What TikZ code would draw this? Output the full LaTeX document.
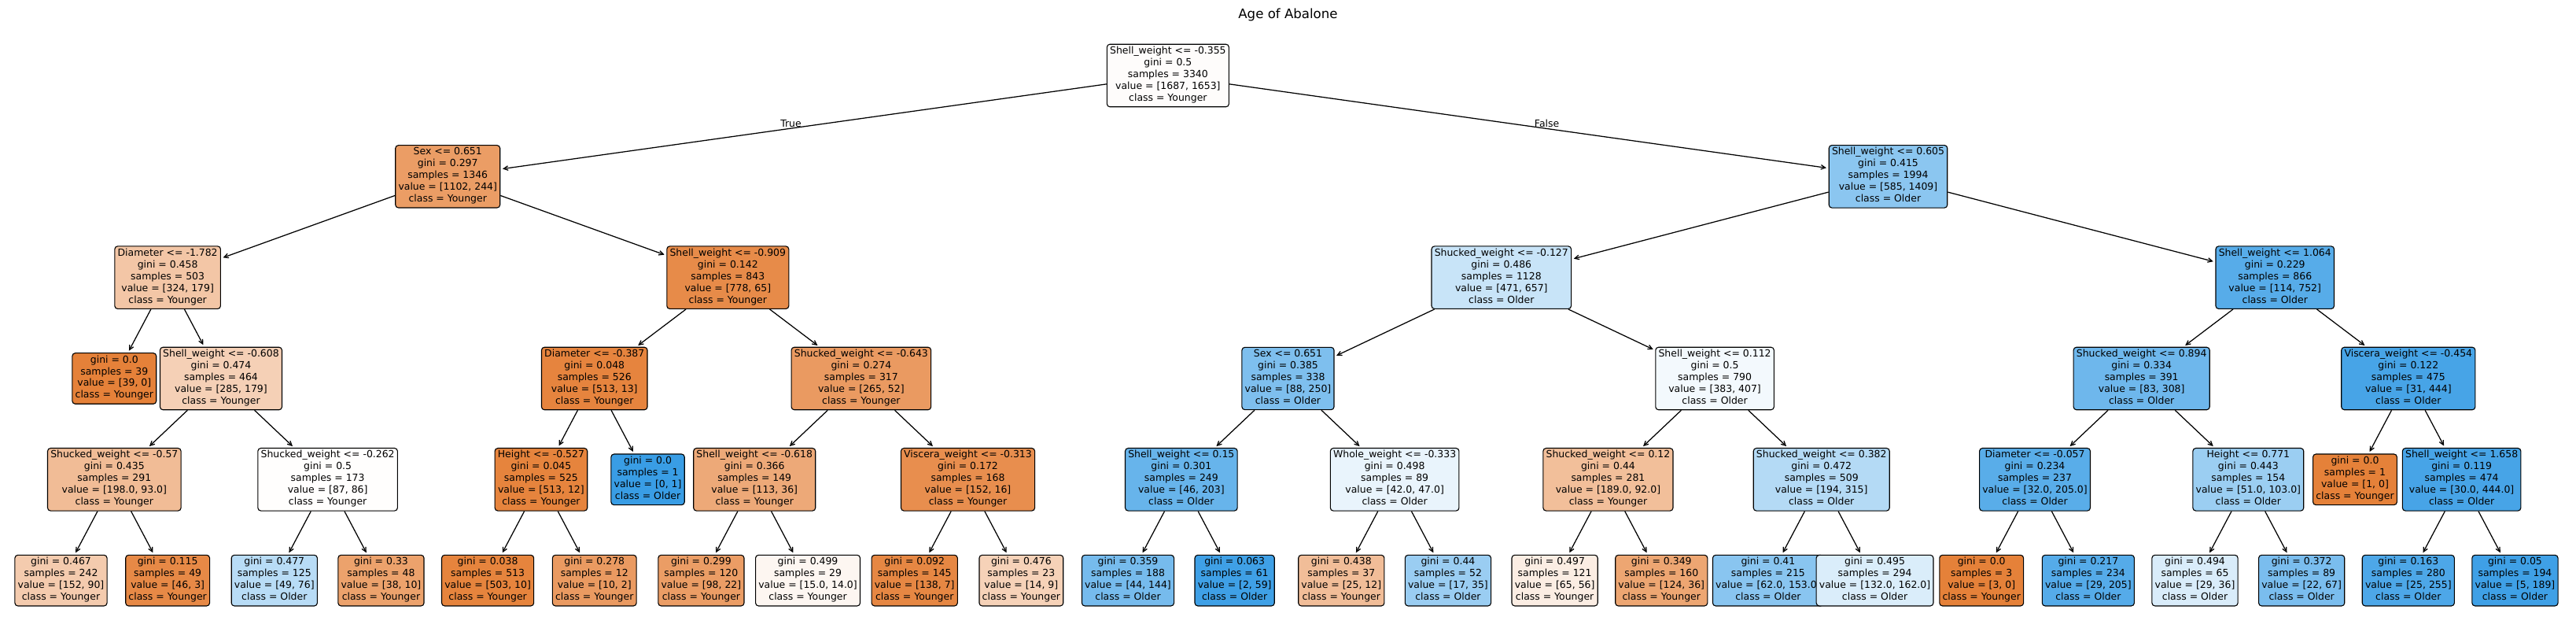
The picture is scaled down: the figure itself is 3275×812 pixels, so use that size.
\documentclass[tikz,border=0pt]{standalone}
\usepackage{fontspec}
\setmainfont{DejaVu Sans}
\usetikzlibrary{arrows.meta,calc}
\definecolor{torg}{RGB}{229,129,57}
\definecolor{tblu}{RGB}{57,157,229}
\begin{document}
\begin{tikzpicture}[x=0.72bp,y=-0.72bp,
  box/.style={draw=black, line width=0.8bp, rounded corners=2.7bp, align=center,
    inner xsep=2.7bp, inner ysep=2.1bp, font=\fontsize{9}{10.8}\selectfont,
    execute at begin node=\strut, execute at end node=\strut},
  kd/.style 2 args={at={({77.5+135.65*#1},{96+128.33*#2})}},
  arr/.style={-{Straight Barb[length=4bp,width=4bp]}, line width=0.9bp, shorten >=2bp},
  lbl/.style={font=\fontsize{9}{10.8}\selectfont, inner sep=0pt}]
\useasboundingbox (0,0) rectangle (3275,812);
\node[font=\fontsize{12}{14.4}\selectfont, inner sep=0pt, anchor=base] (title) at (1637.5,23) {Age of Abalone};
% nodes
\node[box, kd={10.375}{0}, fill=torg!2!white] (n0) {Shell\_weight <= -0.355\\gini = 0.5\\samples = 3340\\value = [1687, 1653]\\class = Younger};
\node[box, kd={3.625}{1}, fill=torg!78!white] (n1) {Sex <= 0.651\\gini = 0.297\\samples = 1346\\value = [1102, 244]\\class = Younger};
\node[box, kd={1}{2}, fill=torg!45!white] (n2) {Diameter <= -1.782\\gini = 0.458\\samples = 503\\value = [324, 179]\\class = Younger};
\node[box, kd={0.5}{3}, fill=torg] (n3) {gini = 0.0\\samples = 39\\value = [39, 0]\\class = Younger};
\node[box, kd={1.5}{3}, fill=torg!37!white] (n4) {Shell\_weight <= -0.608\\gini = 0.474\\samples = 464\\value = [285, 179]\\class = Younger};
\node[box, kd={0.5}{4}, fill=torg!53!white] (n5) {Shucked\_weight <= -0.57\\gini = 0.435\\samples = 291\\value = [198.0, 93.0]\\class = Younger};
\node[box, kd={0}{5}, fill=torg!41!white] (n6) {gini = 0.467\\samples = 242\\value = [152, 90]\\class = Younger};
\node[box, kd={1}{5}, fill=torg!93.5!white] (n7) {gini = 0.115\\samples = 49\\value = [46, 3]\\class = Younger};
\node[box, kd={2.5}{4}, fill=torg!1!white] (n8) {Shucked\_weight <= -0.262\\gini = 0.5\\samples = 173\\value = [87, 86]\\class = Younger};
\node[box, kd={2}{5}, fill=tblu!36!white] (n9) {gini = 0.477\\samples = 125\\value = [49, 76]\\class = Older};
\node[box, kd={3}{5}, fill=torg!74!white] (n10) {gini = 0.33\\samples = 48\\value = [38, 10]\\class = Younger};
\node[box, kd={6.25}{2}, fill=torg!92!white] (n11) {Shell\_weight <= -0.909\\gini = 0.142\\samples = 843\\value = [778, 65]\\class = Younger};
\node[box, kd={5}{3}, fill=torg!97.5!white] (n12) {Diameter <= -0.387\\gini = 0.048\\samples = 526\\value = [513, 13]\\class = Younger};
\node[box, kd={4.5}{4}, fill=torg!98!white] (n13) {Height <= -0.527\\gini = 0.045\\samples = 525\\value = [513, 12]\\class = Younger};
\node[box, kd={4}{5}, fill=torg!98!white] (n14) {gini = 0.038\\samples = 513\\value = [503, 10]\\class = Younger};
\node[box, kd={5}{5}, fill=torg!80!white] (n15) {gini = 0.278\\samples = 12\\value = [10, 2]\\class = Younger};
\node[box, kd={5.5}{4}, fill=tblu] (n16) {gini = 0.0\\samples = 1\\value = [0, 1]\\class = Older};
\node[box, kd={7.5}{3}, fill=torg!80!white] (n17) {Shucked\_weight <= -0.643\\gini = 0.274\\samples = 317\\value = [265, 52]\\class = Younger};
\node[box, kd={6.5}{4}, fill=torg!68!white] (n18) {Shell\_weight <= -0.618\\gini = 0.366\\samples = 149\\value = [113, 36]\\class = Younger};
\node[box, kd={6}{5}, fill=torg!78!white] (n19) {gini = 0.299\\samples = 120\\value = [98, 22]\\class = Younger};
\node[box, kd={7}{5}, fill=torg!7!white] (n20) {gini = 0.499\\samples = 29\\value = [15.0, 14.0]\\class = Younger};
\node[box, kd={8.5}{4}, fill=torg!89.5!white] (n21) {Viscera\_weight <= -0.313\\gini = 0.172\\samples = 168\\value = [152, 16]\\class = Younger};
\node[box, kd={8}{5}, fill=torg!95!white] (n22) {gini = 0.092\\samples = 145\\value = [138, 7]\\class = Younger};
\node[box, kd={9}{5}, fill=torg!36!white] (n23) {gini = 0.476\\samples = 23\\value = [14, 9]\\class = Younger};
\node[box, kd={17.125}{1}, fill=tblu!58.5!white] (n24) {Shell\_weight <= 0.605\\gini = 0.415\\samples = 1994\\value = [585, 1409]\\class = Older};
\node[box, kd={13.5}{2}, fill=tblu!28!white] (n25) {Shucked\_weight <= -0.127\\gini = 0.486\\samples = 1128\\value = [471, 657]\\class = Older};
\node[box, kd={11.5}{3}, fill=tblu!65!white] (n26) {Sex <= 0.651\\gini = 0.385\\samples = 338\\value = [88, 250]\\class = Older};
\node[box, kd={10.5}{4}, fill=tblu!77!white] (n27) {Shell\_weight <= 0.15\\gini = 0.301\\samples = 249\\value = [46, 203]\\class = Older};
\node[box, kd={10}{5}, fill=tblu!69!white] (n28) {gini = 0.359\\samples = 188\\value = [44, 144]\\class = Older};
\node[box, kd={11}{5}, fill=tblu!97!white] (n29) {gini = 0.063\\samples = 61\\value = [2, 59]\\class = Older};
\node[box, kd={12.5}{4}, fill=tblu!11!white] (n30) {Whole\_weight <= -0.333\\gini = 0.498\\samples = 89\\value = [42.0, 47.0]\\class = Older};
\node[box, kd={12}{5}, fill=torg!52!white] (n31) {gini = 0.438\\samples = 37\\value = [25, 12]\\class = Younger};
\node[box, kd={13}{5}, fill=tblu!51!white] (n32) {gini = 0.44\\samples = 52\\value = [17, 35]\\class = Older};
\node[box, kd={15.5}{3}, fill=tblu!6!white] (n33) {Shell\_weight <= 0.112\\gini = 0.5\\samples = 790\\value = [383, 407]\\class = Older};
\node[box, kd={14.5}{4}, fill=torg!51!white] (n34) {Shucked\_weight <= 0.12\\gini = 0.44\\samples = 281\\value = [189.0, 92.0]\\class = Younger};
\node[box, kd={14}{5}, fill=torg!14!white] (n35) {gini = 0.497\\samples = 121\\value = [65, 56]\\class = Younger};
\node[box, kd={15}{5}, fill=torg!71!white] (n36) {gini = 0.349\\samples = 160\\value = [124, 36]\\class = Younger};
\node[box, kd={16.5}{4}, fill=tblu!38!white] (n37) {Shucked\_weight <= 0.382\\gini = 0.472\\samples = 509\\value = [194, 315]\\class = Older};
\node[box, kd={16}{5}, fill=tblu!59.5!white] (n38) {gini = 0.41\\samples = 215\\value = [62.0, 153.0]\\class = Older};
\node[box, kd={17}{5}, fill=tblu!18.5!white] (n39) {gini = 0.495\\samples = 294\\value = [132.0, 162.0]\\class = Older};
\node[box, kd={20.75}{2}, fill=tblu!85!white] (n40) {Shell\_weight <= 1.064\\gini = 0.229\\samples = 866\\value = [114, 752]\\class = Older};
\node[box, kd={19.5}{3}, fill=tblu!73!white] (n41) {Shucked\_weight <= 0.894\\gini = 0.334\\samples = 391\\value = [83, 308]\\class = Older};
\node[box, kd={18.5}{4}, fill=tblu!84!white] (n42) {Diameter <= -0.057\\gini = 0.234\\samples = 237\\value = [32.0, 205.0]\\class = Older};
\node[box, kd={18}{5}, fill=torg] (n43) {gini = 0.0\\samples = 3\\value = [3, 0]\\class = Younger};
\node[box, kd={19}{5}, fill=tblu!86!white] (n44) {gini = 0.217\\samples = 234\\value = [29, 205]\\class = Older};
\node[box, kd={20.5}{4}, fill=tblu!50.5!white] (n45) {Height <= 0.771\\gini = 0.443\\samples = 154\\value = [51.0, 103.0]\\class = Older};
\node[box, kd={20}{5}, fill=tblu!19!white] (n46) {gini = 0.494\\samples = 65\\value = [29, 36]\\class = Older};
\node[box, kd={21}{5}, fill=tblu!67!white] (n47) {gini = 0.372\\samples = 89\\value = [22, 67]\\class = Older};
\node[box, kd={22}{3}, fill=tblu!93!white] (n48) {Viscera\_weight <= -0.454\\gini = 0.122\\samples = 475\\value = [31, 444]\\class = Older};
\node[box, kd={21.5}{4}, fill=torg] (n49) {gini = 0.0\\samples = 1\\value = [1, 0]\\class = Younger};
\node[box, kd={22.5}{4}, fill=tblu!93!white] (n50) {Shell\_weight <= 1.658\\gini = 0.119\\samples = 474\\value = [30.0, 444.0]\\class = Older};
\node[box, kd={22}{5}, fill=tblu!90!white] (n51) {gini = 0.163\\samples = 280\\value = [25, 255]\\class = Older};
\node[box, kd={23}{5}, fill=tblu!97!white] (n52) {gini = 0.05\\samples = 194\\value = [5, 189]\\class = Older};
% edges
\foreach \p/\c in {n0/n1,n1/n2,n2/n3,n2/n4,n4/n5,n5/n6,n5/n7,n4/n8,n8/n9,n8/n10,
  n1/n11,n11/n12,n12/n13,n13/n14,n13/n15,n12/n16,n11/n17,n17/n18,n18/n19,n18/n20,
  n17/n21,n21/n22,n21/n23,n0/n24,n24/n25,n25/n26,n26/n27,n27/n28,n27/n29,n26/n30,
  n30/n31,n30/n32,n25/n33,n33/n34,n34/n35,n34/n36,n33/n37,n37/n38,n37/n39,
  n24/n40,n40/n41,n41/n42,n42/n43,n42/n44,n41/n45,n45/n46,n45/n47,n40/n48,
  n48/n49,n48/n50,n50/n51,n50/n52}
  \draw[arr] (\p) -- (\c);
% True / False labels
\node[lbl, anchor=base east] (ltrue) at ($(n0)!0.5!(n1)+(-8,1.6)$) {True};
\node[lbl, anchor=base west] (lfalse) at ($(n0)!0.5!(n24)+(8,1.6)$) {False};
\end{tikzpicture}
\end{document}
